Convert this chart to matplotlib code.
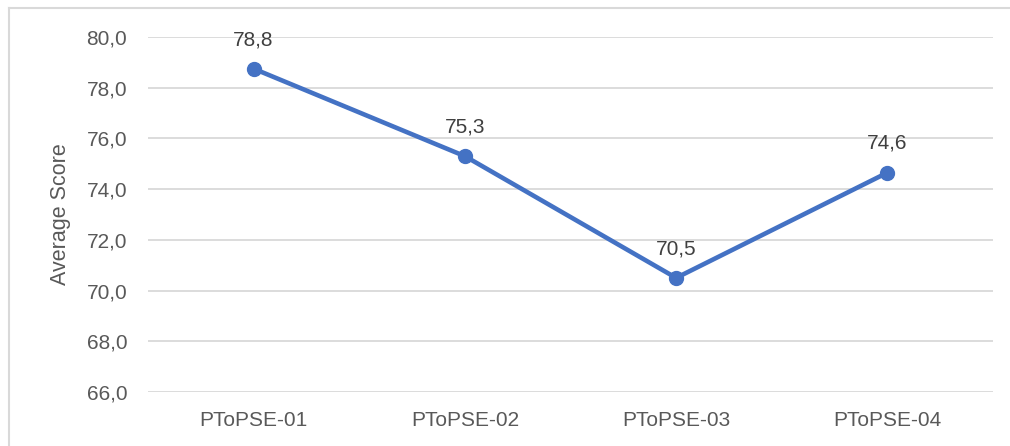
import matplotlib.pyplot as plt
from matplotlib.lines import Line2D

categories = ['PToPSE-01', 'PToPSE-02', 'PToPSE-03', 'PToPSE-04']
scores = [78.75, 75.3, 70.5, 74.65]
labels = ['78,8', '75,3', '70,5', '74,6']
yticks = [66, 68, 70, 72, 74, 76, 78, 80]

txt = '#595959'
blue = '#4472C4'
plt.rcParams['font.family'] = ['Liberation Sans', 'DejaVu Sans']

fig = plt.figure(figsize=(10.1, 4.46), dpi=100)
ax = fig.add_axes([148/1010, 1-392/446, 845/1010, 355/446])

x = range(len(categories))
ax.plot(x, scores, color=blue, lw=3.3, marker='o', ms=10, solid_capstyle='round', zorder=3)
for xi, v, lab in zip(x, scores, labels):
    ax.annotate(lab, (xi, v), xytext=(0, 21), textcoords='offset points',
                ha='center', va='center', fontsize=15, color='#404040')

ax.set_xlim(-0.5, 3.5)
ax.set_ylim(66, 80)
ax.set_xticks(list(x))
ax.set_xticklabels(categories)
ax.set_yticks(yticks)
ax.set_yticklabels([f'{t:.1f}'.replace('.', ',') for t in yticks])
ax.tick_params(length=0, labelsize=15, labelcolor=txt)
ax.tick_params(axis='x', pad=14)
ax.tick_params(axis='y', pad=15)
ax.grid(axis='y', color='#D9D9D9', lw=1.3)
ax.set_axisbelow(True)
for s in ax.spines.values():
    s.set_visible(False)
ax.set_ylabel('Average Score', fontsize=15.5, color=txt, labelpad=11)

# outer chart border (only top and left visible)
fig.add_artist(Line2D([9/1010, 1.0], [1-8/446, 1-8/446], color='#D9D9D9', lw=1.5))
fig.add_artist(Line2D([9/1010, 9/1010], [0, 1-8/446], color='#D9D9D9', lw=1.5))

fig.savefig('out.png', dpi=100)
